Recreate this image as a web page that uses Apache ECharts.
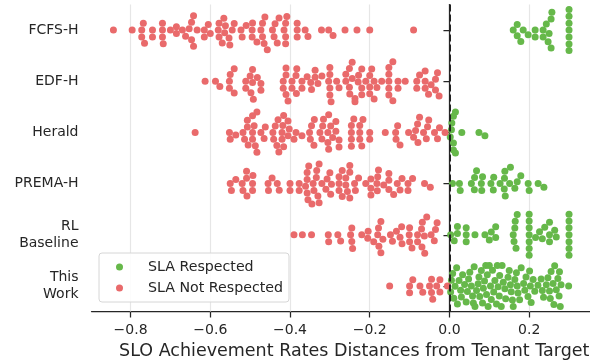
<!DOCTYPE html>
<html>
<head>
<meta charset="utf-8">
<script src="https://cdn.jsdelivr.net/npm/echarts@6/dist/echarts.min.js"></script>
<style>
  html, body { margin: 0; padding: 0; background: #fff; }
  #chart { width: 590px; height: 360px; }
</style>
</head>
<body>
<div id="chart"></div>
<script>
var categories = ['FCFS-H', 'EDF-H', 'Herald', 'PREMA-H', 'RL\nBaseline', 'This\nWork'];
var xTicks = [-0.8, -0.6, -0.4, -0.2, 0, 0.2];

// distance from tenant target, split by whether the SLA was respected
var fcfsMissed = [-0.843, -0.796, -0.772, -0.772, -0.768, -0.765, -0.745, -0.745, -0.72, -0.72, -0.72, -0.718,
  -0.70, -0.685, -0.685, -0.67, -0.662, -0.653, -0.647, -0.647, -0.642, -0.642, -0.633, -0.615, -0.615, -0.605,
  -0.60, -0.58, -0.578, -0.578, -0.57, -0.566, -0.564, -0.562, -0.553, -0.551, -0.545, -0.54, -0.523, -0.52,
  -0.51, -0.495, -0.495, -0.494, -0.483, -0.473, -0.469, -0.469, -0.465, -0.463, -0.457, -0.444,
  -0.44, -0.4375, -0.432, -0.4275, -0.415, -0.411, -0.411, -0.411, -0.408, -0.382, -0.382,
  -0.382, -0.362, -0.355, -0.321, -0.303, -0.292, -0.262, -0.232, -0.2, -0.09];
var fcfsMet = [0.16, 0.17, 0.17, 0.179, 0.185, 0.1975, 0.215, 0.215, 0.235, 0.235, 0.243, 0.2475, 0.25, 0.255,
  0.255, 0.257, 0.3, 0.3, 0.3, 0.3, 0.3, 0.3, 0.3];

var edfMissed = [-0.613, -0.587, -0.576, -0.552, -0.552, -0.55, -0.54, -0.54, -0.511, -0.511, -0.50, -0.498,
  -0.494, -0.494, -0.492, -0.482, -0.473, -0.473, -0.417, -0.417, -0.41, -0.41, -0.41, -0.405,
  -0.395, -0.395, -0.385, -0.384, -0.383, -0.37, -0.37, -0.357, -0.348, -0.346, -0.337, -0.337,
  -0.33, -0.32, -0.30, -0.30, -0.30, -0.30, -0.297, -0.303, -0.283, -0.277, -0.26, -0.26, -0.251, -0.251, -0.25,
  -0.244, -0.244, -0.237, -0.237, -0.229, -0.228, -0.22, -0.22, -0.22, -0.21, -0.2, -0.2, -0.2,
  -0.195, -0.189, -0.189, -0.182, -0.17, -0.152, -0.152, -0.152, -0.152, -0.152, -0.142, -0.142,
  -0.129, -0.129, -0.111, -0.082, -0.082, -0.075, -0.061, -0.061, -0.061, -0.0525, -0.046, -0.035, -0.035,
  -0.03, -0.026];
var edfMet = [];

var heraldMissed = [-0.638, -0.552, -0.55, -0.536, -0.518, -0.514, -0.507, -0.507, -0.505, -0.494, -0.494,
  -0.494, -0.49, -0.487, -0.483, -0.483, -0.473, -0.465, -0.462, -0.443, -0.441, -0.437, -0.433, -0.43,
  -0.428, -0.42, -0.42, -0.418, -0.416, -0.416, -0.405, -0.405, -0.402, -0.39, -0.385,
  -0.37, -0.351, -0.349, -0.346, -0.34, -0.339, -0.325, -0.32, -0.318, -0.316, -0.305, -0.305, -0.303, -0.303,
  -0.298, -0.293, -0.285, -0.285, -0.277, -0.277, -0.246, -0.246, -0.246, -0.246, -0.24, -0.225, -0.225,
  -0.225, -0.22, -0.217, -0.2, -0.2, -0.161, -0.135, -0.134, -0.13, -0.124, -0.1025, -0.09, -0.085, -0.08,
  -0.079, -0.075, -0.065, -0.058, -0.055, -0.052, -0.0375, -0.03, -0.025, -0.011];
var heraldMet = [0.002, 0.005, 0.006, 0.01, 0.01, 0.01, 0.015, 0.015, 0.031, 0.074, 0.089];

var premaMissed = [-0.55, -0.547, -0.536, -0.52, -0.518, -0.509, -0.509, -0.508, -0.494, -0.494, -0.493, -0.455,
  -0.454, -0.445, -0.432, -0.427, -0.4, -0.4, -0.377, -0.377, -0.361, -0.357, -0.357, -0.357, -0.355,
  -0.353, -0.345, -0.342, -0.34, -0.334, -0.333, -0.33, -0.327, -0.327, -0.32,
  -0.31, -0.307, -0.3, -0.298, -0.296, -0.277, -0.277, -0.277, -0.269,
  -0.269, -0.26, -0.26, -0.256, -0.25, -0.25, -0.25, -0.238, -0.236, -0.228, -0.21, -0.197,
  -0.197, -0.197, -0.182, -0.181, -0.18, -0.178, -0.165, -0.152, -0.152, -0.152, -0.14, -0.131, -0.124, -0.119,
  -0.104, -0.104, -0.0925, -0.0625, -0.048];
var premaMet = [0.0075, 0.025, 0.027, 0.055, 0.0625, 0.063, 0.068, 0.08, 0.081, 0.083, 0.104, 0.11, 0.111, 0.127,
  0.1375, 0.138, 0.139, 0.14, 0.151, 0.153, 0.164, 0.17, 0.179, 0.1975, 0.2, 0.2225, 0.237];

var rlMissed = [-0.39, -0.369, -0.346, -0.304, -0.303, -0.28, -0.273, -0.248, -0.245, -0.245, -0.243, -0.22,
  -0.205, -0.204, -0.19, -0.18, -0.178, -0.177, -0.172, -0.172, -0.167, -0.148, -0.143, -0.133, -0.124, -0.12,
  -0.119, -0.101, -0.1, -0.1, -0.094, -0.08, -0.08, -0.07, -0.069, -0.068, -0.063, -0.062, -0.057, -0.046,
  -0.038, -0.035, -0.031];
var rlMet = [0.003, 0.012, 0.02, 0.02, 0.042, 0.042, 0.042, 0.064, 0.089, 0.1, 0.105, 0.116, 0.116, 0.16, 0.162,
  0.164, 0.165, 0.167, 0.17, 0.2, 0.2, 0.2, 0.2, 0.2, 0.2, 0.2, 0.216, 0.226, 0.233, 0.239, 0.251, 0.251, 0.251,
  0.264, 0.268, 0.3, 0.3, 0.3, 0.3, 0.3, 0.3, 0.3];

var oursMissed = [-0.15, -0.1, -0.1, -0.092, -0.074, -0.067, -0.05, -0.045, -0.045, -0.042, -0.032, -0.024,
  -0.024, -0.005];
var oursMet = [0.003, 0.005, 0.008, 0.011, 0.014, 0.018, 0.02, 0.024, 0.028, 0.03, 0.033, 0.038, 0.042, 0.045,
  0.048, 0.051, 0.055, 0.058, 0.06, 0.062, 0.064, 0.068, 0.072, 0.074, 0.076, 0.08, 0.083, 0.085, 0.088, 0.091,
  0.093, 0.095, 0.097, 0.1, 0.103, 0.105, 0.108, 0.111, 0.114, 0.118, 0.12, 0.122, 0.125, 0.126, 0.13,
  0.132, 0.135, 0.139, 0.141, 0.147, 0.15, 0.153, 0.155, 0.158, 0.16, 0.164, 0.168, 0.17,
  0.172, 0.176, 0.18, 0.186, 0.189, 0.192, 0.197, 0.201, 0.203, 0.205, 0.21, 0.214,
  0.222, 0.23, 0.233, 0.236, 0.243, 0.247, 0.251, 0.253, 0.255, 0.26, 0.262, 0.264, 0.268,
  0.272, 0.275, 0.276, 0.278, 0.28, 0.299];

var metByCategory = [fcfsMet, edfMet, heraldMet, premaMet, rlMet, oursMet];
var missedByCategory = [fcfsMissed, edfMissed, heraldMissed, premaMissed, rlMissed, oursMissed];

(function() {
  var ink = '#262626';
  var green = '#66b84a';
  var red = '#e96a6b';
  var dot = 6.9;

  var chart = echarts.init(document.getElementById('chart'), null, { renderer: 'canvas' });
  chart.setOption({
    animation: false,
    textStyle: { fontFamily: 'DejaVu Sans' },
    grid: { left: 91.5, right: 0, top: 4.5, bottom: 48.5, outerBoundsMode: 'none', containLabel: false },
    legend: {
      data: ['SLA Respected', 'SLA Not Respected'],
      orient: 'vertical', left: 99, top: 253,
      padding: [7, 6, 7, 17], itemGap: 7,
      itemWidth: 7, itemHeight: 7, icon: 'circle',
      borderColor: '#d6d6d6', borderWidth: 1, borderRadius: 3,
      backgroundColor: 'rgba(255,255,255,0.85)',
      textStyle: { color: ink, fontSize: 14.2, padding: [0, 0, 0, 20] }
    },
    xAxis: {
      type: 'value', min: -0.898, max: 0.3526,
      name: 'SLO Achievement Rates Distances from Tenant Target',
      nameLocation: 'middle', nameGap: 31,
      nameTextStyle: { color: ink, fontSize: 17.5, padding: [0, 0, 0, 27] },
      axisLine: { show: true, lineStyle: { color: ink, width: 1.25 } },
      axisTick: { show: true, customValues: xTicks, length: 6, lineStyle: { color: ink, width: 1.25 } },
      axisLabel: {
        customValues: xTicks, color: ink, fontSize: 14, margin: 12,
        formatter: function(v) { return v.toFixed(1).replace('-', '\u2212'); }
      },
      splitLine: { show: false }
    },
    yAxis: {
      type: 'category', inverse: true, data: categories,
      axisLine: { show: true, lineStyle: { color: ink, width: 1.25 } },
      axisTick: { show: true, alignWithLabel: true, length: 6, lineStyle: { color: ink, width: 1.25 } },
      axisLabel: { color: ink, fontSize: 14, lineHeight: 17, margin: 13, align: 'right' },
      splitLine: { show: false }
    },
    series: [
      { name: 'SLA Respected', type: 'scatter', z: 3, data: [] },
      { name: 'SLA Not Respected', type: 'scatter', z: 3, data: [] }
    ]
  });

  // seaborn-style swarm: place points in x order, as near the centre as they fit
  function swarm(pts, gutter) {
    var order = pts.map(function(p, i) { return i; }).sort(function(a, b) { return pts[a].px - pts[b].px; });
    var placed = [];
    order.forEach(function(i) {
      var px = pts[i].px;
      var near = placed.filter(function(q) { return Math.abs(q.px - px) < dot; });
      var cands = [0];
      near.forEach(function(q) {
        var h = Math.sqrt(dot * dot - (q.px - px) * (q.px - px));
        cands.push(q.dy + h, q.dy - h);
      });
      cands.sort(function(a, b) { return Math.abs(a) - Math.abs(b); });
      var pick = cands[cands.length - 1];
      for (var k = 0; k < cands.length; k++) {
        var c = cands[k];
        var ok = near.every(function(q) {
          var dx = q.px - px, dy = q.dy - c;
          return dx * dx + dy * dy >= dot * dot - 1e-3;
        });
        if (ok) { pick = c; break; }
      }
      pts[i].dy = pick;
      placed.push({ px: px, dy: pick });
    });
    pts.forEach(function(p) { p.dy = Math.max(-gutter, Math.min(gutter, p.dy)); });
  }

  var band = Math.abs(chart.convertToPixel({ yAxisIndex: 0 }, 1) - chart.convertToPixel({ yAxisIndex: 0 }, 0));
  var metData = [], missedData = [];
  categories.forEach(function(cat, ci) {
    var pts = [];
    metByCategory[ci].forEach(function(v) { pts.push({ v: v, met: true }); });
    missedByCategory[ci].forEach(function(v) { pts.push({ v: v, met: false }); });
    pts.forEach(function(p) { p.px = chart.convertToPixel({ xAxisIndex: 0 }, p.v); });
    swarm(pts, band * 0.4);
    pts.forEach(function(p) {
      var item = { value: [p.v, ci], symbolOffset: [0, p.dy] };
      (p.met ? metData : missedData).push(item);
    });
  });

  chart.setOption({
    series: [
      {
        name: 'SLA Respected', symbolSize: 7, itemStyle: { color: green, opacity: 1 }, data: metData,
        markLine: {
          silent: true, symbol: 'none', z: 1, label: { show: false },
          lineStyle: { color: '#e6e6e6', width: 1.2, type: 'solid' },
          data: xTicks.filter(function(t) { return t !== 0; }).map(function(t) { return { xAxis: t }; })
        }
      },
      {
        name: 'SLA Not Respected', symbolSize: 7, itemStyle: { color: red, opacity: 1 }, data: missedData,
        markLine: {
          silent: true, symbol: 'none', label: { show: false },
          lineStyle: { color: '#222', width: 2, type: [7, 3] },
          data: [{ xAxis: 0 }]
        }
      }
    ]
  });
  window.addEventListener('resize', function() { chart.resize(); });
})();
</script>
</body>
</html>
